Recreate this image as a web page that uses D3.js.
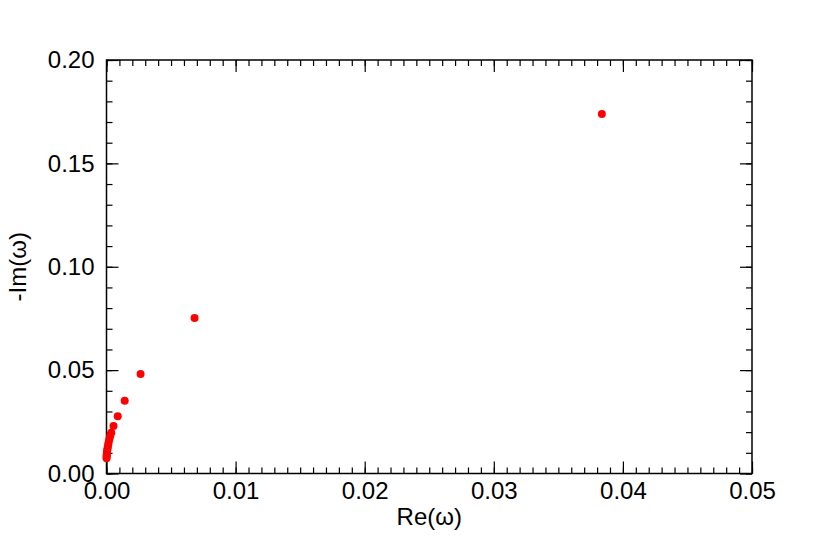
<!DOCTYPE html>
<html><head><meta charset="utf-8">
<script src="https://cdn.jsdelivr.net/npm/d3@7"></script>
<style>body{margin:0;background:#fff}svg{display:block}text{font-family:"Liberation Sans",Arial,Helvetica,sans-serif}</style>
</head><body>
<script>
const reValues = [0.03837, 0.00682, 0.00264, 0.00141, 0.00087, 0.00054, 0.00037, 0.00029, 0.00023, 0.00018, 0.00014, 0.00011, 0.00008, 0.00006, 0.00004, 0.00003, 0.00002, 0.00001, 0.000005];
const negImValues = [0.1739, 0.0752, 0.0481, 0.0352, 0.0277, 0.0230, 0.0197, 0.0182, 0.0168, 0.0155, 0.0143, 0.0132, 0.0122, 0.0113, 0.0104, 0.0096, 0.0089, 0.0082, 0.0074];
const xTicks = [0, 0.01, 0.02, 0.03, 0.04, 0.05];
const yTicks = [0, 0.05, 0.10, 0.15, 0.20];
const xLabel = "Re(ω)";
const yLabel = "-Im(ω)";

const W = 817, H = 545;
const L = 106.5, R = 752, T = 60, B = 473.5;
const svg = d3.select("body").append("svg").attr("width", W).attr("height", H);
const x = d3.scaleLinear().domain([0, 0.05]).range([L, R]);
const y = d3.scaleLinear().domain([0, 0.2]).range([B, T]);
const xMinor = d3.range(0, 51).map(i => i * 0.001);
const yMinor = d3.range(0, 21).map(i => i * 0.01);

function styleAxis(g) {
  g.select(".domain").remove();
  g.selectAll("line").attr("stroke", "#000").attr("stroke-width", 1.2);
  g.selectAll("text").attr("font-size", 24).attr("fill", "#000");
}
// bottom
svg.append("g").attr("transform", `translate(0,${B})`)
  .call(d3.axisBottom(x).tickValues(xMinor).tickSize(-6).tickFormat(""))
  .call(styleAxis);
svg.append("g").attr("transform", `translate(0,${B})`)
  .call(d3.axisBottom(x).tickValues(xTicks).tickSize(-12).tickPadding(8).tickFormat(d3.format(".2f")))
  .call(styleAxis);
// top
svg.append("g").attr("transform", `translate(0,${T})`)
  .call(d3.axisTop(x).tickValues(xMinor).tickSize(-6).tickFormat(""))
  .call(styleAxis);
svg.append("g").attr("transform", `translate(0,${T})`)
  .call(d3.axisTop(x).tickValues(xTicks).tickSize(-12).tickFormat(""))
  .call(styleAxis);
// left
svg.append("g").attr("transform", `translate(${L},0)`)
  .call(d3.axisLeft(y).tickValues(yMinor).tickSize(-6).tickFormat(""))
  .call(styleAxis);
svg.append("g").attr("transform", `translate(${L},0)`)
  .call(d3.axisLeft(y).tickValues(yTicks).tickSize(-12).tickPadding(12).tickFormat(d3.format(".2f")))
  .call(styleAxis);
// right
svg.append("g").attr("transform", `translate(${R},0)`)
  .call(d3.axisRight(y).tickValues(yMinor).tickSize(-6).tickFormat(""))
  .call(styleAxis);
svg.append("g").attr("transform", `translate(${R},0)`)
  .call(d3.axisRight(y).tickValues(yTicks).tickSize(-12).tickFormat(""))
  .call(styleAxis);

svg.append("rect").attr("x", L).attr("y", T).attr("width", R - L).attr("height", B - T)
  .attr("fill", "none").attr("stroke", "#000").attr("stroke-width", 1.5);

svg.append("g").selectAll("circle").data(reValues.map((v, i) => [v, negImValues[i]]))
  .join("circle").attr("cx", d => x(d[0])).attr("cy", d => y(d[1])).attr("r", 4).attr("fill", "#ff0000");

svg.append("text").attr("x", (L + R) / 2).attr("y", 525).attr("text-anchor", "middle")
  .attr("font-size", 24).text(xLabel);
svg.append("text").attr("transform", `translate(26,${(T + B) / 2}) rotate(-90)`).attr("text-anchor", "middle")
  .attr("font-size", 24).text(yLabel);
</script>
</body></html>
